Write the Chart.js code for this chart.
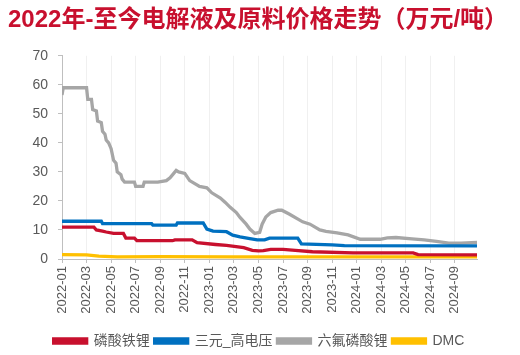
<!DOCTYPE html>
<html>
<head>
<meta charset="utf-8">
<script src="https://cdn.jsdelivr.net/npm/chart.js@4/dist/chart.umd.min.js"></script>
<style>
html,body{margin:0;padding:0;background:#fff;}
#wrap{width:520px;height:355px;}
</style>
</head>
<body>
<div id="wrap"><canvas id="c" width="520" height="355"></canvas></div>
<script>
// x values are months since 2022-01 (0 = 2022-01)
const xTickPos = [0,2,4,6,8,10,12,14,16,18,20,22,24,26,28,30,32];
const xLabels = ['2022-01','2022-03','2022-05','2022-07','2022-09','2022-11','2023-01','2023-03','2023-05','2023-07','2023-09','2023-11','2024-01','2024-03','2024-05','2024-07','2024-09'];
const yTicks = [0,10,20,30,40,50,60,70];

const seriesNames = ['磷酸铁锂','三元_高电压','六氟磷酸锂','DMC'];

const lfpX = [0,2.6,2.8,3.3,3.6,4.2,5.0,5.2,5.9,6.1,9.0,9.2,10.6,11.0,12.5,13.4,14.8,15.5,16.0,16.4,17.0,18.0,19.0,20.4,23.7,28.6,29.0,33.8];
const lfpY = [11,11,10,9.6,9.3,8.8,8.8,7.2,7.2,6.3,6.3,6.6,6.6,5.6,5.0,4.7,3.9,3.0,2.8,2.9,3.3,3.3,3.0,2.5,2.1,2.1,1.5,1.4];

const nmcX = [0,3.2,3.3,7.3,7.4,9.3,9.4,11.5,11.8,12.3,13.4,13.9,14.5,15.3,15.9,16.5,16.9,19.2,19.5,22,23,33.8];
const nmcY = [13,13,12.2,12.2,11.7,11.7,12.4,12.4,10.3,9.6,9.4,8.2,7.6,7.0,6.6,6.6,7.2,7.2,5.2,4.9,4.6,4.5];

const lpfX = [0,0.1,2.0,2.1,2.4,2.5,2.8,2.9,3.2,3.3,3.5,3.6,3.8,4.0,4.2,4.4,4.5,4.8,4.9,5.1,5.9,6.0,6.6,6.7,7.8,8.5,8.8,9.1,9.3,9.5,10.0,10.4,11.2,11.8,12.2,12.9,13.3,13.7,14.2,14.5,15.0,15.3,15.7,16.1,16.3,16.6,17.0,17.6,17.9,18.5,19.6,20.2,21.0,21.5,22.4,23.3,24.3,25.9,26.5,27.2,28.5,29.5,30.5,31.5,32.5,33.8];
const lpfY = [56.5,59,59,55,55,51.5,51,47.5,47,44,43,41,40,38,34,33,30,29,27.5,26.5,26.5,25,25,26.5,26.5,27,28,29.5,30.5,30,29.5,27,25,24.5,22.8,21,19.5,17.8,16,14.3,12,10.3,8.8,9.2,12,14.5,16,16.8,16.8,15.5,12.8,12,10,9.5,9,8.3,6.8,6.8,7.3,7.4,6.9,6.6,6.1,5.5,5.5,5.7];

const dmcX = [0,2.0,3.0,4.5,8,14,20,33.8];
const dmcY = [1.5,1.4,1.0,0.7,0.8,0.7,0.7,0.7];

const colors = ['#c8102e','#0070c0','#a6a6a6','#ffc000'];

function pts(xs, ys){ return xs.map((x,i)=>({x:x, y:ys[i]})); }

const FONT = "'Liberation Sans', 'Noto Sans CJK SC', sans-serif";

new Chart(document.getElementById('c'), {
  type: 'line',
  data: {
    datasets: [
      {label: seriesNames[0], data: pts(lfpX, lfpY), borderColor: colors[0], backgroundColor: colors[0]},
      {label: seriesNames[1], data: pts(nmcX, nmcY), borderColor: colors[1], backgroundColor: colors[1]},
      {label: seriesNames[2], data: pts(lpfX, lpfY), borderColor: colors[2], backgroundColor: colors[2]},
      {label: seriesNames[3], data: pts(dmcX, dmcY), borderColor: colors[3], backgroundColor: colors[3]}
    ]
  },
  options: {
    responsive: false,
    animation: false,
    devicePixelRatio: 1,
    elements: { point: { radius: 0 }, line: { borderWidth: 3.3, tension: 0 } },
    layout: { padding: { left: 8, right: 10, top: 0, bottom: -3 } },
    plugins: {
      title: {
        display: true,
        text: '2022年-至今电解液及原料价格走势（万元/吨）',
        align: 'start',
        color: '#c8102e',
        font: { family: FONT, size: 24, weight: 'bold' },
        padding: { top: 6, bottom: 21 }
      },
      legend: {
        position: 'bottom',
        labels: {
          boxWidth: 33,
          boxHeight: 4,
          padding: 5,
          color: '#595959',
          font: { family: FONT, size: 14 }
        }
      },
      tooltip: { enabled: false }
    },
    scales: {
      x: {
        type: 'linear',
        min: 0,
        max: 33.8,
        afterBuildTicks: (s) => { s.ticks = xTickPos.map(v => ({value: v})); },
        afterFit: (s) => { s.height = 70; },
        ticks: {
          autoSkip: false,
          minRotation: 90,
          maxRotation: 90,
          padding: 3,
          color: '#595959',
          font: { family: FONT, size: 13 },
          callback: (v, i) => xLabels[i]
        },
        grid: { color: '#f0f0f0', tickColor: '#bfbfbf', tickLength: 4, drawOnChartArea: true },
        border: { color: '#bfbfbf', width: 1 }
      },
      y: {
        min: 0,
        max: 70,
        afterBuildTicks: (s) => { s.ticks = yTicks.map(v => ({value: v})); },
        afterFit: (s) => { s.width = 54; },
        ticks: {
          padding: 10,
          color: '#595959',
          font: { family: FONT, size: 14 }
        },
        grid: { drawOnChartArea: false, tickColor: '#bfbfbf', tickLength: 4 },
        border: { color: '#bfbfbf', width: 1 }
      },
      yR: {
        position: 'right',
        display: true,
        min: 0,
        max: 70,
        afterFit: (s) => { s.width = 33; },
        ticks: { display: false },
        grid: { display: false },
        border: { display: false }
      }
    }
  }
});
</script>
</body>
</html>
